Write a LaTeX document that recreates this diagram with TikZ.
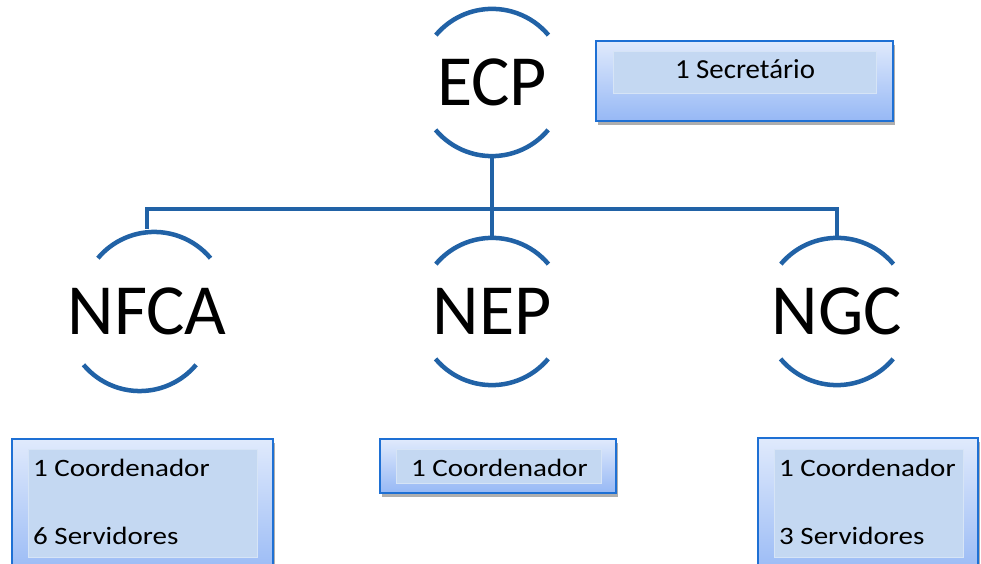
\documentclass[tikz,border=0pt]{standalone}
\usepackage{fontspec}
\setmainfont{Carlito}
\usetikzlibrary{shadows}
\definecolor{linecol}{RGB}{33,98,166}
\definecolor{boxborder}{RGB}{30,112,212}
\definecolor{gradtop}{RGB}{224,234,252}
\definecolor{gradbot}{RGB}{150,184,245}
\definecolor{innerfill}{RGB}{196,216,242}
\begin{document}
\begin{tikzpicture}[x=1pt,y=1pt,
  unit/.style={circle, minimum size=147pt, inner sep=0pt, font=\fontsize{72}{80}\selectfont},
  ring/.style={draw=linecol, line width=4.5pt},
  conn/.style={draw=linecol, line width=4.5pt, line join=miter},
  outerbox/.style={rectangle, draw=boxborder, line width=1.8pt, top color=gradtop, bottom color=gradbot, inner sep=0pt,
    drop shadow={shadow xshift=2pt, shadow yshift=-4pt, opacity=0.45, fill=black!70}},
  innerbox/.style={rectangle, fill=innerfill, draw=innerfill!70!white, line width=0.8pt, inner sep=0pt},
  boxtext/.style={font=\fontsize{25}{28}\selectfont, inner sep=0pt},
  sectext/.style={font=\fontsize{27.5}{30}\selectfont, inner sep=0pt}]
\useasboundingbox (0,0) rectangle (981,564);
\fill[white] (0,0) rectangle (981,564);

% unit nodes
\node[unit] (ecp) at (492,481.5) {ECP};
\node[unit] (nfca) at (147,252.5) {NFCA};
\node[unit] (nep) at (492,252.5) {NEP};
\node[unit] (ngc) at (837,252.5) {NGC};

\foreach \n in {ecp,nfca,nep,ngc}{
  \draw[ring] (\n.40) arc[start angle=40, end angle=140, radius=73.5pt];
  \draw[ring] (\n.220) arc[start angle=220, end angle=320, radius=73.5pt];
}

% connectors
\coordinate (bus) at (492,355);
\draw[conn] (ecp.south) -- (nep.north);
\draw[conn] (nfca.north) |- (bus) -| (ngc.north);

% secretary box
\node[outerbox, minimum width=297pt, minimum height=80pt] (secbox) at (744.5,483) {};
\node[innerbox, minimum width=263pt, minimum height=42pt] (secin) at (744.5,492) {};
\node[sectext, anchor=base] (sect) at (745,485) {\scalebox{1.05}[1]{1 Secretário}};

% NFCA box
\node[outerbox, minimum width=261pt, minimum height=141pt] (nfcabox) at (142.5,54.5) {};
\node[innerbox, minimum width=229pt, minimum height=108pt] (nfcain) at (142.5,61) {};
\node[boxtext, anchor=base west] (nfcat1) at (33,87) {\scalebox{1.16}[1]{1 Coordenador}};
\node[boxtext, anchor=base west] (nfcat2) at (33,19) {\scalebox{1.16}[1]{6 Servidores}};

% NEP box
\node[outerbox, minimum width=236pt, minimum height=54pt] (nepbox) at (498,98) {};
\node[innerbox, minimum width=205pt, minimum height=34pt] (nepin) at (498.5,98) {};
\node[boxtext, anchor=base west] (nept1) at (411,87) {\scalebox{1.16}[1]{1 Coordenador}};

% NGC box
\node[outerbox, minimum width=220pt, minimum height=142pt] (ngcbox) at (868,55) {};
\node[innerbox, minimum width=189pt, minimum height=108pt] (ngcin) at (868.5,61) {};
\node[boxtext, anchor=base west] (ngct1) at (779,87) {\scalebox{1.16}[1]{1 Coordenador}};
\node[boxtext, anchor=base west] (ngct2) at (779,19) {\scalebox{1.16}[1]{3 Servidores}};
\end{tikzpicture}
\end{document}
